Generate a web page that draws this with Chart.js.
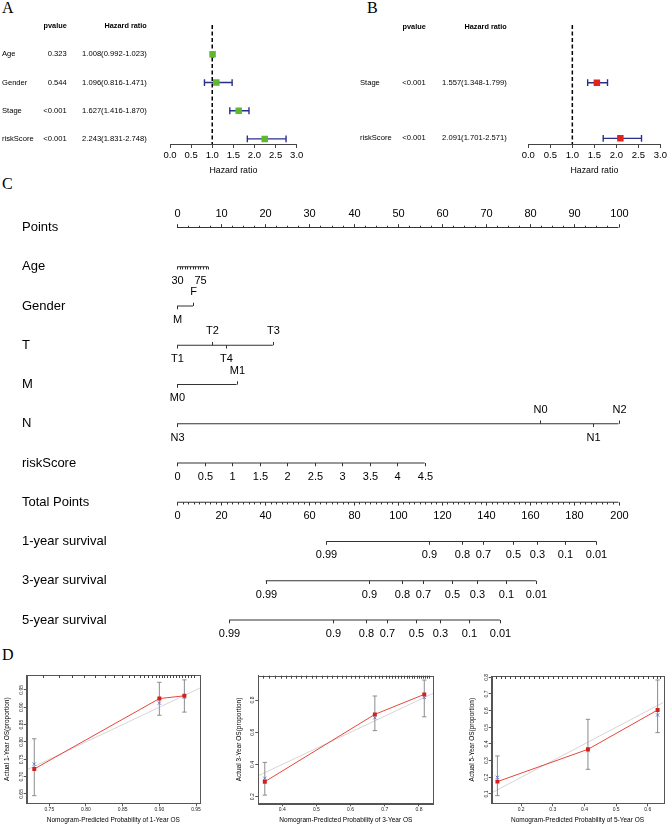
<!DOCTYPE html>
<html>
<head>
<meta charset="utf-8">
<script src="https://cdn.jsdelivr.net/npm/chart.js@4.4.0/dist/chart.umd.min.js"></script>
<style>
  body { margin: 0; background: #fff; width: 669px; height: 825px; position: relative; overflow: hidden; }
  canvas { position: absolute; }
  .tag { position: absolute; font-family: "Liberation Serif", "Times New Roman", serif; font-size: 16px; line-height: 16px; color: #000; }
</style>
</head>
<body>
<div class="tag" style="left:2px;top:0px">A</div>
<div class="tag" style="left:367px;top:0px">B</div>
<div class="tag" style="left:2px;top:176px">C</div>
<div class="tag" style="left:2px;top:647px">D</div>

<canvas id="forestA" width="335" height="178" style="left:0;top:0"></canvas>
<canvas id="forestB" width="334" height="178" style="left:335px;top:0"></canvas>
<canvas id="nomo" width="669" height="470" style="left:0;top:175px"></canvas>
<canvas id="cal1" width="223" height="180" style="left:0;top:645px"></canvas>
<canvas id="cal3" width="220" height="180" style="left:225px;top:645px"></canvas>
<canvas id="cal5" width="222" height="180" style="left:447px;top:645px"></canvas>

<script>
// ---------- data ----------
// A: univariate cox
const uniVars = ['Age', 'Gender', 'Stage', 'riskScore'];
const uniP = ['0.323', '0.544', '<0.001', '<0.001'];
const uniHR = [1.008, 1.096, 1.627, 2.243];
const uniLow = [0.992, 0.816, 1.416, 1.831];
const uniHigh = [1.023, 1.471, 1.870, 2.748];

// B: multivariate cox
const multiVars = ['Stage', 'riskScore'];
const multiP = ['<0.001', '<0.001'];
const multiHR = [1.557, 2.091];
const multiLow = [1.348, 1.701];
const multiHigh = [1.799, 2.571];

const hrTicks = [0, 0.5, 1, 1.5, 2, 2.5, 3];

// C: nomogram (positions are on the Points scale, survival rows on the Total Points scale)
const nomoRows = ['Points', 'Age', 'Gender', 'T', 'M', 'N', 'riskScore', 'Total Points',
                  '1-year survival', '3-year survival', '5-year survival'];
const pointsLabels = [0, 10, 20, 30, 40, 50, 60, 70, 80, 90, 100];
const ageValues = [30, 35, 40, 45, 50, 55, 60, 65, 70, 75, 80, 85, 90];
const agePts = [0, 0.59, 1.18, 1.76, 2.35, 2.94, 3.53, 4.11, 4.70, 5.29, 5.88, 6.46, 7.05];
const ageShown = [30, 75];
const genderLabels = ['M', 'F'];
const genderPts = [0, 3.62];
const genderSide = ['down', 'up'];
const tLabels = ['T1', 'T2', 'T4', 'T3'];
const tPts = [0, 8.0, 11.2, 21.7];
const tSide = ['down', 'up', 'down', 'up'];
const mLabels = ['M0', 'M1'];
const mPts = [0, 13.5];
const mSide = ['down', 'up'];
const nLabels = ['N3', 'N0', 'N1', 'N2'];
const nPts = [0, 82.2, 94.2, 100];
const nSide = ['down', 'up', 'down', 'up'];
const riskLabels = ['0', '0.5', '1', '1.5', '2', '2.5', '3', '3.5', '4', '4.5'];
const riskPts = [0, 6.23, 12.47, 18.70, 24.93, 31.17, 37.40, 43.63, 49.87, 56.10];
const totalLabels = [0, 20, 40, 60, 80, 100, 120, 140, 160, 180, 200];
const survLabels = ['0.99', '0.9', '0.8', '0.7', '0.5', '0.3', '0.1', '0.01'];
const surv1Total = [67.6, 114.2, 129.3, 138.7, 152.0, 162.9, 175.9, 190.0];
const surv3Total = [40.2, 87.1, 102.1, 111.3, 124.7, 135.8, 148.9, 162.6];
const surv5Total = [23.6, 70.7, 85.6, 95.0, 108.3, 119.1, 132.4, 146.3];

// D: calibration curves
const cal1Pred = [0.7295, 0.900, 0.9341];
const cal1Obs  = [0.722, 0.925, 0.933];
const cal1Corr = [0.736, 0.912, 0.929];
const cal1Low  = [0.645, 0.877, 0.886];
const cal1High = [0.809, 0.972, 0.979];
const cal1XTicks = [0.75, 0.80, 0.85, 0.90, 0.95];
const cal1YTicks = [0.65, 0.70, 0.75, 0.80, 0.85, 0.90, 0.95];
const cal1Rug = [0.742, 0.763, 0.781, 0.797, 0.812, 0.826, 0.838, 0.849, 0.858, 0.866, 0.873, 0.879,
                 0.885, 0.890, 0.895, 0.899, 0.903, 0.907, 0.911, 0.915, 0.919, 0.923, 0.927, 0.931,
                 0.935, 0.939, 0.943, 0.947];

const cal3Pred = [0.349, 0.671, 0.8156];
const cal3Obs  = [0.293, 0.711, 0.835];
const cal3Corr = [0.314, 0.690, 0.816];
const cal3Low  = [0.210, 0.610, 0.696];
const cal3High = [0.413, 0.825, 0.924];
const cal3XTicks = [0.4, 0.5, 0.6, 0.7, 0.8];
const cal3YTicks = [0.2, 0.4, 0.6, 0.8];
const cal3Rug = [0.345, 0.362, 0.378, 0.395, 0.41, 0.426, 0.44, 0.455, 0.47, 0.486, 0.50, 0.515, 0.53,
                 0.545, 0.56, 0.574, 0.588, 0.60, 0.613, 0.626, 0.638, 0.65, 0.661, 0.672, 0.683, 0.693,
                 0.703, 0.713, 0.722, 0.731, 0.74, 0.748, 0.756, 0.764, 0.772, 0.779, 0.786, 0.793,
                 0.80, 0.806, 0.812, 0.818, 0.824, 0.83];

const cal5Pred = [0.125, 0.411, 0.631];
const cal5Obs  = [0.174, 0.368, 0.604];
const cal5Corr = [0.200, 0.360, 0.574];
const cal5Low  = [0.090, 0.248, 0.468];
const cal5High = [0.328, 0.548, 0.784];
const cal5XTicks = [0.2, 0.3, 0.4, 0.5, 0.6];
const cal5YTicks = [0.1, 0.2, 0.3, 0.4, 0.5, 0.6, 0.7, 0.8];
const cal5Rug = [0.12, 0.135, 0.15, 0.165, 0.18, 0.195, 0.21, 0.225, 0.24, 0.255, 0.27, 0.285, 0.30,
                 0.315, 0.33, 0.345, 0.36, 0.375, 0.39, 0.405, 0.42, 0.435, 0.45, 0.465, 0.48, 0.495,
                 0.51, 0.525, 0.54, 0.555, 0.57, 0.585, 0.6, 0.615, 0.63, 0.64];

// ---------- common ----------
const FONT = '"Liberation Sans", Arial, Helvetica, sans-serif';
Chart.defaults.font.family = FONT;
Chart.defaults.color = '#000';
Chart.defaults.animation = false;
const CI_COLOR = '#2b2f8c';

const baseOpts = {
  responsive: false,
  devicePixelRatio: 1,
  events: [],
  plugins: { legend: { display: false }, tooltip: { enabled: false } }
};

// ---------- forest plots ----------
function drawForest(id, names, pvals, hr, low, high, boxColor, cfg) {
  const rows = names.map((n, i) => i);
  const sets = [];
  // reference line at HR = 1
  sets.push({ data: [{ x: 1, y: cfg.yMin }, { x: 1, y: cfg.yMax }], showLine: true,
    borderColor: '#000', borderWidth: 1.5, borderDash: [4, 2.5], pointRadius: 0, order: 3 });
  // confidence intervals with caps
  rows.forEach(i => sets.push({ data: [{ x: low[i], y: i }, { x: high[i], y: i }], showLine: true,
    borderColor: CI_COLOR, borderWidth: 1.4, pointStyle: 'line', pointRotation: 90, pointRadius: 3.4,
    pointBorderColor: CI_COLOR, pointBorderWidth: 1.4, order: 2 }));
  // hazard ratio boxes
  sets.push({ data: rows.map(i => ({ x: hr[i], y: i })), pointStyle: 'rect', pointRadius: 4.6,
    pointBackgroundColor: boxColor, pointBorderColor: boxColor, pointBorderWidth: 0, order: 1 });

  // the text table left of the plot
  const table = {
    id: 'table',
    afterDraw(chart) {
      const ctx = chart.ctx, y = chart.scales.y;
      ctx.save();
      ctx.fillStyle = '#000';
      ctx.textBaseline = 'middle';
      ctx.textAlign = 'right';
      ctx.font = 'bold 7.3px ' + FONT;
      const hy = y.getPixelForValue(-1);
      ctx.fillText('pvalue', cfg.pX, hy);
      ctx.fillText('Hazard ratio', cfg.hrX, hy);
      ctx.font = '7.6px ' + FONT;
      rows.forEach(i => {
        const py = y.getPixelForValue(i);
        ctx.textAlign = 'left';
        ctx.fillText(names[i], cfg.nameX, py);
        ctx.textAlign = 'right';
        ctx.fillText(pvals[i], cfg.pX, py);
        ctx.fillText(hr[i].toFixed(3) + '(' + low[i].toFixed(3) + '-' + high[i].toFixed(3) + ')', cfg.hrX, py);
      });
      ctx.restore();
    }
  };

  new Chart(document.getElementById(id), {
    type: 'scatter',
    data: { datasets: sets },
    options: Object.assign({}, baseOpts, {
      layout: { padding: { left: cfg.left, right: cfg.right, top: 25, bottom: 0 } },
      scales: {
        x: {
          type: 'linear', min: 0, max: 3,
          afterBuildTicks: s => { s.ticks = hrTicks.map(v => ({ value: v })); },
          afterFit: s => { s.height = 34; },
          ticks: { font: { size: 9.5 }, color: '#000', padding: 2, maxRotation: 0, autoSkip: false,
                   callback: v => Number(v).toFixed(1) },
          grid: { drawOnChartArea: false, drawTicks: true, tickLength: 4, color: '#444', lineWidth: 1 },
          border: { display: true, color: '#444', width: 1 },
          title: { display: true, text: 'Hazard ratio', font: { size: 8.8 }, color: '#000',
                   padding: { top: 0, bottom: 2 } }
        },
        y: { type: 'linear', display: false, reverse: true, min: cfg.yMin, max: cfg.yMax }
      }
    }),
    plugins: [table]
  });
}

drawForest('forestA', uniVars, uniP, uniHR, uniLow, uniHigh, '#5fb92c',
  { left: 170, right: 38.3, yMin: -1.04, yMax: 3.18, nameX: 2, pX: 66.7, hrX: 146.7 });
drawForest('forestB', multiVars, multiP, multiHR, multiLow, multiHigh, '#e3221d',
  { left: 193.3, right: 6.6, yMin: -1.038, yMax: 1.102, nameX: 25, pX: 90.7, hrX: 171.7 });

// ---------- nomogram ----------
const NOMO_LINE = '#333';
const nomoAxes = [];
(function buildNomo() {
  // Points: labels every 10, minor ticks every 2.5, ticks up
  const pts = [];
  for (let v = 0; v <= 100; v += 2.5) {
    const major = pointsLabels.includes(v);
    pts.push({ at: v, label: major ? String(v) : '', side: 'up', len: major ? 3.3 : 1.8 });
  }
  nomoAxes.push({ row: 0, axis: 'x', ticks: pts });
  nomoAxes.push({ row: 1, axis: 'x', ticks: ageValues.map((a, i) =>
    ({ at: agePts[i], label: ageShown.includes(a) ? String(a) : '', side: 'down', len: 2.7 })) });
  nomoAxes.push({ row: 2, axis: 'x', ticks: genderLabels.map((l, i) =>
    ({ at: genderPts[i], label: l, side: genderSide[i], len: 3.3 })) });
  nomoAxes.push({ row: 3, axis: 'x', ticks: tLabels.map((l, i) =>
    ({ at: tPts[i], label: l, side: tSide[i], len: 3.3 })) });
  nomoAxes.push({ row: 4, axis: 'x', ticks: mLabels.map((l, i) =>
    ({ at: mPts[i], label: l, side: mSide[i], len: 3.3 })) });
  nomoAxes.push({ row: 5, axis: 'x', ticks: nLabels.map((l, i) =>
    ({ at: nPts[i], label: l, side: nSide[i], len: 3.3 })) });
  nomoAxes.push({ row: 6, axis: 'x', ticks: riskLabels.map((l, i) =>
    ({ at: riskPts[i], label: l, side: 'down', len: 3.3 })) });
  const tot = [];
  for (let v = 0; v <= 200; v += 2.5) {
    const lab = totalLabels.includes(v);
    tot.push({ at: v, label: lab ? String(v) : '', side: 'down', len: lab ? 3.3 : 2.2 });
  }
  nomoAxes.push({ row: 7, axis: 'xt', ticks: tot });
  [surv1Total, surv3Total, surv5Total].forEach((s, k) => {
    nomoAxes.push({ row: 8 + k, axis: 'xt', ticks: survLabels.map((l, i) =>
      ({ at: s[i], label: l, side: 'down', len: 3.3 })) });
  });
})();

const nomoSets = nomoAxes.map(a => {
  const at = a.ticks.map(t => t.at);
  return { xAxisID: a.axis, data: [{ x: Math.min(...at), y: a.row }, { x: Math.max(...at), y: a.row }],
    showLine: true, borderColor: NOMO_LINE, borderWidth: 1, pointRadius: 0, clip: false };
});

const nomoPlugin = {
  id: 'nomoTicks',
  afterDatasetsDraw(chart) {
    const ctx = chart.ctx, sc = chart.scales;
    ctx.save();
    ctx.fillStyle = '#000';
    ctx.textBaseline = 'middle';
    ctx.font = '13px ' + FONT;
    ctx.textAlign = 'left';
    nomoRows.forEach((r, i) => ctx.fillText(r, 22, sc.y.getPixelForValue(i)));
    ctx.font = '11px ' + FONT;
    ctx.textAlign = 'center';
    ctx.strokeStyle = NOMO_LINE;
    ctx.lineWidth = 1;
    nomoAxes.forEach(a => {
      const y0 = sc.y.getPixelForValue(a.row);
      a.ticks.forEach(t => {
        const px = Math.round(sc[a.axis].getPixelForValue(t.at)) + 0.5;
        const dir = t.side === 'up' ? -1 : 1;
        ctx.beginPath();
        ctx.moveTo(px, y0);
        ctx.lineTo(px, y0 + dir * t.len);
        ctx.stroke();
        if (t.label) ctx.fillText(t.label, px, y0 + dir * 13.8);
      });
    });
    ctx.restore();
  }
};

new Chart(document.getElementById('nomo'), {
  type: 'scatter',
  data: { datasets: nomoSets },
  options: Object.assign({}, baseOpts, {
    layout: { padding: { left: 177, right: 50.5, top: 52.5, bottom: 25 } },
    scales: {
      x: { type: 'linear', display: false, min: 0, max: 100 },
      xt: { type: 'linear', display: false, min: 0, max: 200 },
      y: { type: 'linear', display: false, reverse: true, min: 0, max: 10 }
    }
  }),
  plugins: [nomoPlugin]
});

// ---------- calibration plots ----------
function drawCalib(id, pred, obs, corr, low, high, rug, c) {
  const sets = [];
  sets.push({ data: [{ x: c.xMin, y: c.xMin }, { x: c.xMax, y: c.xMax }], showLine: true,
    borderColor: '#d6d6d6', borderWidth: 1, pointRadius: 0, order: 4 });
  pred.forEach((x, i) => sets.push({ data: [{ x, y: low[i] }, { x, y: high[i] }], showLine: true,
    borderColor: '#8c8c8c', borderWidth: 1, pointStyle: 'line', pointRadius: 2.2,
    pointBorderColor: '#8c8c8c', pointBorderWidth: 1, order: 3 }));
  sets.push({ data: pred.map((x, i) => ({ x, y: corr[i] })), pointStyle: 'crossRot', pointRadius: 2.3,
    pointBorderColor: '#6b78c9', pointBorderWidth: 1, order: 2 });
  sets.push({ data: pred.map((x, i) => ({ x, y: obs[i] })), showLine: true, borderColor: '#e8453c',
    borderWidth: 1, pointStyle: 'rect', pointRadius: 2.8, pointBackgroundColor: '#d41f1f',
    pointBorderWidth: 0, order: 1 });

  const frame = {
    id: 'frame',
    afterDraw(chart) {
      const { ctx, chartArea: a, scales } = chart;
      ctx.save();
      ctx.strokeStyle = '#555';
      ctx.lineWidth = 1;
      ctx.strokeRect(Math.round(a.left) + 0.5, Math.round(a.top) + 0.5,
                     Math.round(a.right - a.left), Math.round(a.bottom - a.top));
      // rug of predicted probabilities along the top edge
      ctx.strokeStyle = '#444';
      rug.forEach(v => {
        const px = Math.round(scales.x.getPixelForValue(v)) + 0.5;
        ctx.beginPath();
        ctx.moveTo(px, a.top);
        ctx.lineTo(px, a.top + 3);
        ctx.stroke();
      });
      ctx.restore();
    }
  };

  new Chart(document.getElementById(id), {
    type: 'scatter',
    data: { datasets: sets },
    options: Object.assign({}, baseOpts, {
      layout: { padding: { left: c.left - 23.4, right: c.right, top: c.top, bottom: 0 } },
      scales: {
        x: {
          type: 'linear', min: c.xMin, max: c.xMax,
          afterBuildTicks: s => { s.ticks = c.xTicks.map(v => ({ value: v })); },
          afterFit: s => { s.height = 21.7; },
          ticks: { font: { size: 5 }, color: '#222', padding: 0, maxRotation: 0, autoSkip: false,
                   callback: v => Number(v).toFixed(c.dx) },
          grid: { drawOnChartArea: false, tickLength: 3, color: '#555' },
          border: { color: '#555' },
          title: { display: true, text: c.xTitle, font: { size: 6.5 }, color: '#000',
                   padding: { top: 0, bottom: 0.4 } }
        },
        y: {
          type: 'linear', min: c.yMin, max: c.yMax,
          afterBuildTicks: s => { s.ticks = c.yTicks.map(v => ({ value: v })); },
          afterFit: s => { s.width = 23.4; },
          ticks: { font: { size: 5 }, color: '#222', padding: c.ytPad, minRotation: 90, maxRotation: 90,
                   crossAlign: 'center', autoSkip: false, callback: v => Number(v).toFixed(c.dy) },
          grid: { drawOnChartArea: false, tickLength: 3, color: '#555' },
          border: { color: '#555' },
          title: { display: true, text: c.yTitle, font: { size: 6.5 }, color: '#000',
                   padding: { top: 0, bottom: 0 } }
        }
      }
    }),
    plugins: [frame]
  });
}

drawCalib('cal1', cal1Pred, cal1Obs, cal1Corr, cal1Low, cal1High, cal1Rug, {
  xMin: 0.7192, xMax: 0.9554, yMin: 0.623, yMax: 0.993, xTicks: cal1XTicks, yTicks: cal1YTicks,
  dx: 2, dy: 2, left: 26.7, right: 23, top: 30, ytPad: -2.4,
  xTitle: 'Nomogram-Predicted Probability of 1-Year OS', yTitle: 'Actual 1-Year OS(proportion)' });
drawCalib('cal3', cal3Pred, cal3Obs, cal3Corr, cal3Low, cal3High, cal3Rug, {
  xMin: 0.330, xMax: 0.842, yMin: 0.159, yMax: 0.951, xTicks: cal3XTicks, yTicks: cal3YTicks,
  dx: 1, dy: 1, left: 33.3, right: 11.7, top: 30.7, ytPad: -1,
  xTitle: 'Nomogram-Predicted Probability of 3-Year OS', yTitle: 'Actual 3-Year OS(proportion)' });
drawCalib('cal5', cal5Pred, cal5Obs, cal5Corr, cal5Low, cal5High, cal5Rug, {
  xMin: 0.107, xMax: 0.649, yMin: 0.044, yMax: 0.808, xTicks: cal5XTicks, yTicks: cal5YTicks,
  dx: 1, dy: 1, left: 44.7, right: 5.7, top: 31, ytPad: -1,
  xTitle: 'Nomogram-Predicted Probability of 5-Year OS', yTitle: 'Actual 5-Year OS(proportion)' });
</script>
</body>
</html>
